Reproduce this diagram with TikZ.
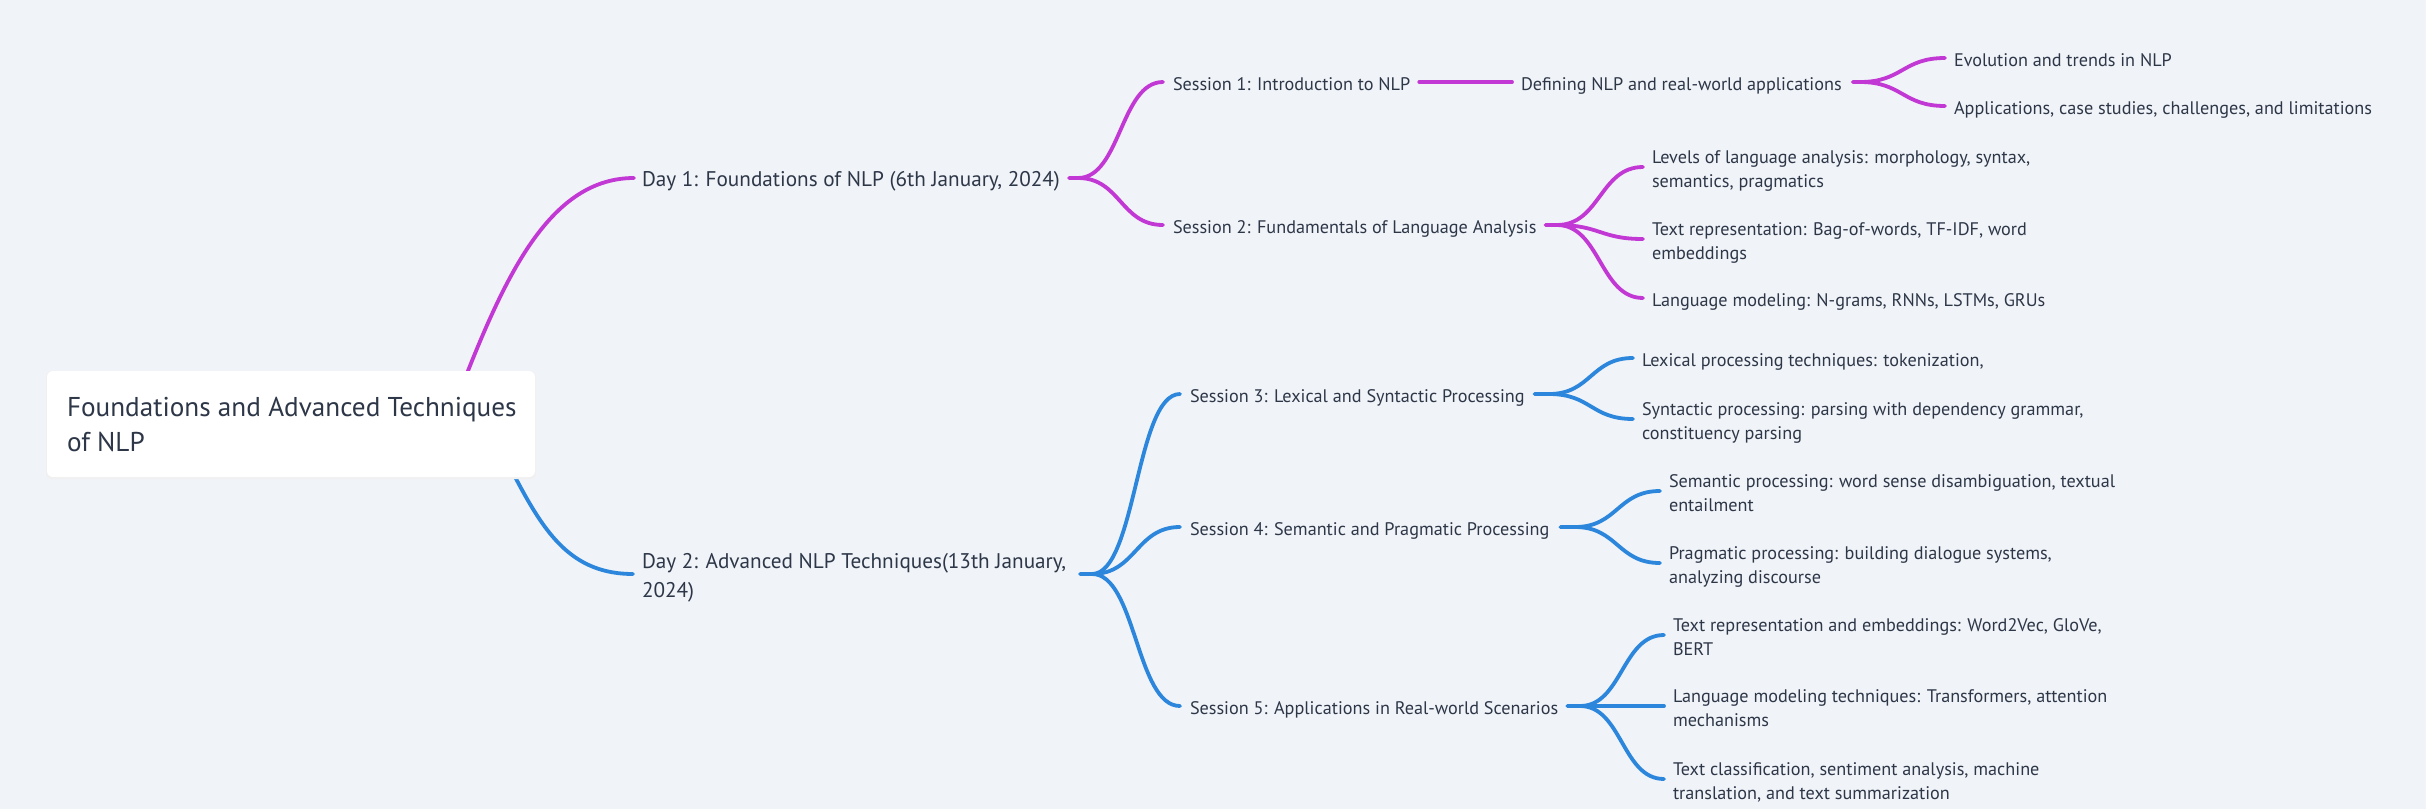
\documentclass[tikz,border=0pt]{standalone}
\usepackage{fontspec}
\setmainfont{PT Sans}
\usetikzlibrary{calc}
\definecolor{bgc}{RGB}{240,243,247}
\definecolor{txt}{RGB}{45,55,72}
\definecolor{mag}{RGB}{194,56,212}
\definecolor{blu}{RGB}{44,134,220}
\newcommand\lntop{\rule{0pt}{1.13em}}
\newcommand\lnbot{\rule[-0.25em]{0pt}{0.25em}}
\newcommand\dytop{\rule{0pt}{1.08em}}
\newcommand\dybot{\rule[-0.26em]{0pt}{0.26em}}
\begin{document}
\begin{tikzpicture}[x=1pt,y=-1pt,
  every node/.style={inner sep=0pt, outer sep=0pt, text=txt, anchor=west, align=left},
  leafm/.style={font=\fontsize{18.2}{24}\selectfont},
  leaf/.style={leafm,
    execute at begin node={\lntop},
    execute at end node={\lnbot}},
  daym/.style={font=\fontsize{21.2}{29}\selectfont},
  daytxt/.style={daym,
    execute at begin node={\dytop},
    execute at end node={\dybot}},
  roottxt/.style={font=\fontsize{27.2}{35}\selectfont},
  conn/.style={line width=3.8pt, line cap=round, line join=round},
  magc/.style={conn, draw=mag},
  bluc/.style={conn, draw=blu},
  sbranch/.style={to path={let \p1=(\tikztostart), \p2=(\tikztotarget) in .. controls ({(\x1+\x2)/2},\y1) and ({(\x1+\x2)/2},\y2) .. (\tikztotarget)}}
]
\fill[bgc] (0,0) rectangle (2426,809);
\useasboundingbox (0,0) rectangle (2426,809);

% day and session nodes
\node[daytxt] (day1) at (642,178) {Day 1: Foundations of NLP (6th January, 2024)};
\node[daym] (day2) at (642,574) {\dytop Day 2: Advanced NLP Techniques(13th January,\\2024\dybot)};

\node[leaf] (s1) at (1173,82) {Session 1: Introduction to NLP};
\node[leaf] (s2) at (1173,225) {Session 2: Fundamentals of Language Analysis};
\node[leaf] (def) at (1521,82) {Defining NLP and real-world applications};
\node[leaf] (evo) at (1954,58) {Evolution and trends in NLP};
\node[leaf] (app) at (1954,106) {Applications, case studies, challenges, and limitations};
\node[leafm] (lev) at (1652,167) {\lntop Levels of language analysis: morphology, syntax,\\semantics, pragmatics\lnbot};
\node[leafm] (trep) at (1652,239) {\lntop Text representation: Bag-of-words, TF-IDF, word\\embeddings\lnbot};
\node[leaf] (lmod) at (1652,298) {Language modeling: N-grams, RNNs, LSTMs, GRUs};

\node[leaf] (s3) at (1190,394) {Session 3: Lexical and Syntactic Processing};
\node[leaf] (s4) at (1190,527) {Session 4: Semantic and Pragmatic Processing};
\node[leaf] (s5) at (1190,706) {Session 5: Applications in Real-world Scenarios};
\node[leaf] (lex) at (1642,358) {Lexical processing techniques: tokenization,};
\node[leafm] (syn) at (1642,419) {\lntop Syntactic processing: parsing with dependency grammar,\\constituency parsing\lnbot};
\node[leafm] (sem) at (1669,491) {\lntop Semantic processing: word sense disambiguation, textual\\entailment\lnbot};
\node[leafm] (pra) at (1669,563) {\lntop Pragmatic processing: building dialogue systems,\\analyzing discourse\lnbot};
\node[leafm] (emb) at (1673,635) {\lntop Text representation and embeddings: Word2Vec, GloVe,\\BERT\lnbot};
\node[leafm] (lmt) at (1673,706) {\lntop Language modeling techniques: Transformers, attention\\mechanisms\lnbot};
\node[leafm] (tcl) at (1673,779) {\lntop Text classification, sentiment analysis, machine\\translation, and text summarization\lnbot};

% junctions
\coordinate (rc1) at (445,430);
\coordinate (rc2) at (480,410);
\coordinate (jd1) at (1078,178);
\coordinate (jd2) at (1092,574);
\coordinate (jdef) at (1860,82);
\coordinate (js2) at (1557,225);
\coordinate (js3) at (1549,394);
\coordinate (js4) at (1575,527);
\coordinate (js5) at (1580,706);

% root connectors
\draw[magc] (rc1) .. controls (495,300) and (540,178) .. ([xshift=-8]day1.west);
\draw[bluc] (rc2) .. controls (530,500) and (550,574) .. ([xshift=-9]day2.west);

% root box
\node[fill=black!6, rounded corners=6pt, minimum width=490, minimum height=108, anchor=north west] (rootshadow) at (46,371) {};
\node[fill=white, rounded corners=6pt, minimum width=488, minimum height=106, anchor=north west] (rootbox) at (47,371) {};
\node[roottxt] (root) at (67,424) {Foundations and Advanced Techniques\\of NLP};

% day 1 branches
\draw[magc] ([xshift=9]day1.east) -- (jd1) to[sbranch] ([xshift=-10]s1.west);
\draw[magc] (jd1) to[sbranch] ([xshift=-10]s2.west);
\draw[magc] ([xshift=9]s1.east) -- ([xshift=-9]def.west);
\draw[magc] ([xshift=11]def.east) -- (jdef) to[sbranch] ([xshift=-9]evo.west);
\draw[magc] (jdef) to[sbranch] ([xshift=-9]app.west);
\draw[magc] ([xshift=9]s2.east) -- (js2) to[sbranch] ([xshift=-9]lev.west);
\draw[magc] (js2) to[sbranch] ([xshift=-9]trep.west);
\draw[magc] (js2) to[sbranch] ([xshift=-9]lmod.west);

% day 2 branches
\draw[bluc] ([xshift=14]day2.east) -- (jd2) to[sbranch] ([xshift=-10]s3.west);
\draw[bluc] (jd2) to[sbranch] ([xshift=-10]s4.west);
\draw[bluc] (jd2) to[sbranch] ([xshift=-10]s5.west);
\draw[bluc] ([xshift=10]s3.east) -- (js3) to[sbranch] ([xshift=-9]lex.west);
\draw[bluc] (js3) to[sbranch] ([xshift=-9]syn.west);
\draw[bluc] ([xshift=11]s4.east) -- (js4) to[sbranch] ([xshift=-9]sem.west);
\draw[bluc] (js4) to[sbranch] ([xshift=-9]pra.west);
\draw[bluc] ([xshift=9]s5.east) -- (js5) to[sbranch] ([xshift=-9]emb.west);
\draw[bluc] (js5) to[sbranch] ([xshift=-9]lmt.west);
\draw[bluc] (js5) to[sbranch] ([xshift=-9]tcl.west);
\end{tikzpicture}
\end{document}
